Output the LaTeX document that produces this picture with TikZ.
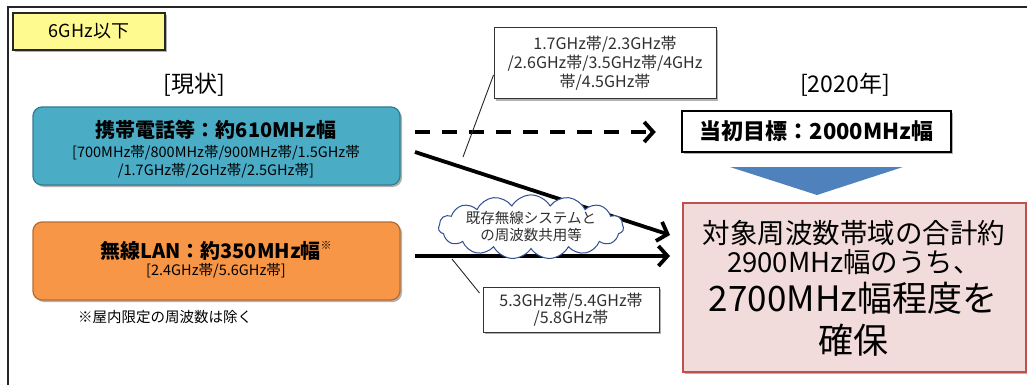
\documentclass[tikz,border=0pt]{standalone}
\usepackage{fontspec}
\setmainfont{Noto Sans CJK JP}
\usetikzlibrary{arrows.meta,shapes.symbols,shadows}
\definecolor{boxblue}{HTML}{4BACC6}
\definecolor{boxblueb}{HTML}{357D91}
\definecolor{boxorange}{HTML}{F79646}
\definecolor{boxorangeb}{HTML}{B66D31}
\definecolor{yel}{HTML}{FFFA90}
\definecolor{pinkf}{HTML}{F2DCDB}
\definecolor{pinkb}{HTML}{C0504D}
\definecolor{triblue}{HTML}{4F81BD}
\definecolor{cloudb}{HTML}{2F4F8F}
\definecolor{txtgray}{HTML}{303030}
\newcommand{\fsz}[2]{\fontsize{#1}{#2}\selectfont}
\begin{document}
\begin{tikzpicture}[x=1pt,y=-1pt,
  shad/.style={drop shadow={shadow xshift=2pt,shadow yshift=-2pt,opacity=0.3,fill=black}},
  txt/.style={inner sep=0pt,outer sep=0pt,align=center},
  bigbox/.style={rounded corners=9pt,line width=1.3pt,minimum width=367pt,minimum height=78pt,inner sep=0pt,shad},
  callbox/.style={draw=black!80,line width=1pt,fill=white,inner sep=0pt,shad,text=txtgray,align=center},
  callline/.style={draw=black!85,line width=0.9pt},
  bigarrow/.style={line width=3.8pt,-{Straight Barb[length=9pt,width=20pt,line width=3.8pt]}},
]
\useasboundingbox (0,0) rectangle (1027,385);
% frame
\draw[line width=2pt,black!85] (8,385) -- (8,7) -- (1027,7);

% label box
\node[draw=black!85,line width=1.2pt,fill=yel,minimum width=152pt,minimum height=37pt,inner sep=0pt,shad,font=\fsz{18}{20}] (lbl) at (89,31.5) {6GHz以下};

% headings
\node[txt,font=\fsz{23}{26}] (now) at (194,85) {[現状]};
\node[txt,font=\fsz{23}{26}] (y2020) at (845,85) {[2020年]};

% blue box
\node[bigbox,draw=boxblueb,fill=boxblue] (mob) at (216.5,146) {};
\node[txt,font=\fsz{20}{22}\bfseries] (mobt) at (216,130) {携帯電話等：約610MHz幅};
\node[txt,font=\fsz{14.5}{18}] (mobs) at (216,162) {[700MHz帯/800MHz帯/900MHz帯/1.5GHz帯\\/1.7GHz帯/2GHz帯/2.5GHz帯]};

% orange box
\node[bigbox,draw=boxorangeb,fill=boxorange] (lan) at (216.5,261) {};
\node[txt,font=\fsz{20}{22}\bfseries] (lant) at (216,251) {無線LAN：約350MHz幅\raisebox{0.45em}{\fsz{11}{12}\mdseries ※}};
\node[txt,font=\fsz{14.5}{18}] (lans) at (216,271) {[2.4GHz帯/5.6GHz帯]};
\node[txt,anchor=west,font=\fsz{14.5}{18}] (note) at (78,317) {※屋内限定の周波数は除く};

% goal box
\node[draw=black,line width=2.5pt,fill=white,minimum width=269pt,minimum height=41pt,inner sep=0pt,shad,font=\fsz{22}{24}\bfseries] (goal) at (816.5,131.5) {当初目標：2000MHz幅};

% triangle
\fill[triblue] (730,167) -- (903,167) -- (817,195) -- cycle;

% target box
\node[draw=pinkb,line width=2pt,fill=pinkf,minimum width=343pt,minimum height=169pt,inner sep=0pt,shad] (tgt) at (854,287.5) {};
\node[txt,font=\fsz{27.5}{30}] (tg1) at (854,233) {対象周波数帯域の合計約};
\node[txt,font=\fsz{27.5}{30}] (tg2) at (854,262) {2900MHz幅のうち、};
\node[txt,font=\fsz{35}{38}] (tg3) at (853,298) {2700MHz幅程度を};
\node[txt,font=\fsz{35}{38}] (tg4) at (853,340) {確保};

% arrows
\coordinate (da) at (415,132);
\coordinate (s1) at (415,152);
\coordinate (e1) at (670,235);
\coordinate (s2) at (415,256);
\coordinate (e2) at (670,256);
\draw[bigarrow,dash pattern=on 15pt off 12pt,shorten >=25pt] (da) -- (goal.west |- da);
\draw[bigarrow] (s1) -- (e1);
\draw[bigarrow] (s2) -- (e2);

% cloud
\node[cloud,cloud puffs=15,cloud puff arc=120,cloud ignores aspect,draw=cloudb,line width=1pt,fill=white,minimum width=184pt,minimum height=46pt,inner sep=0pt,align=center,text=txtgray,font=\fsz{14.5}{17}] (cl) at (531,227) {既存無線システムと\\の周波数共用等};

% callouts
\node[callbox,minimum width=222pt,minimum height=71pt,font=\fsz{16}{19}] (cb1) at (605,63.5) {1.7GHz帯/2.3GHz帯\\/2.6GHz帯/3.5GHz帯/4GHz\\帯/4.5GHz帯};
\coordinate (t1) at (463,157);
\draw[callline] ([yshift=-11.5pt]cb1.west) -- (t1);

\node[callbox,minimum width=176pt,minimum height=45pt,font=\fsz{16}{17}] (cb2) at (571,309.5) {5.3GHz帯/5.4GHz帯\\/5.8GHz帯};
\coordinate (t2) at (452,259);
\draw[callline] ([yshift=16.5pt,xshift=-3pt]cb2.west) -- (t2);
\end{tikzpicture}
\end{document}
